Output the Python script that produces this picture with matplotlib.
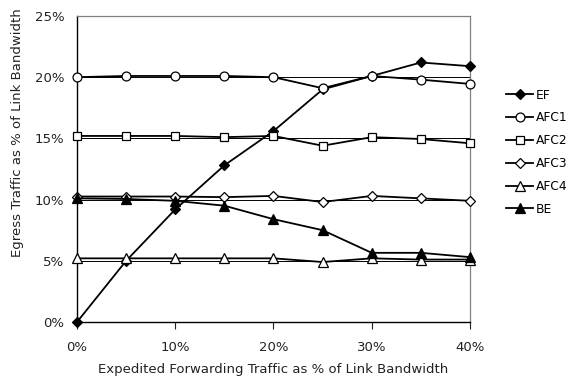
import matplotlib
matplotlib.use("Agg")
import matplotlib.pyplot as plt
from matplotlib.ticker import FuncFormatter

ef_share = [0, 5, 10, 15, 20, 25, 30, 35, 40]

ef = [0.0, 5.0, 9.2, 12.8, 15.6, 19.0, 20.1, 21.2, 20.9]
afc1 = [20.0, 20.1, 20.1, 20.1, 20.0, 19.1, 20.1, 19.8, 19.45]
afc2 = [15.2, 15.2, 15.2, 15.1, 15.2, 14.4, 15.1, 14.95, 14.6]
afc3 = [10.25, 10.25, 10.25, 10.2, 10.3, 9.8, 10.3, 10.1, 9.9]
afc4 = [5.2, 5.2, 5.2, 5.2, 5.2, 4.9, 5.2, 5.1, 5.1]
be = [10.1, 10.05, 9.9, 9.5, 8.4, 7.5, 5.65, 5.65, 5.3]

labels = ["EF", "AFC1", "AFC2", "AFC3", "AFC4", "BE"]
x_ticks = [0, 10, 20, 30, 40]
y_ticks = [0, 5, 10, 15, 20, 25]

series = [
    (ef, "D", "black", 5.2),
    (afc1, "o", "white", 6.4),
    (afc2, "s", "white", 6.2),
    (afc3, "D", "white", 5.6),
    (afc4, "^", "white", 7.0),
    (be, "^", "black", 7.0),
]

fig = plt.figure(figsize=(5.77, 3.77), dpi=100)
ax = fig.add_axes([0.1335, 0.1459, 0.681, 0.8117])

for y in y_ticks[1:-1]:
    ax.axhline(y, color="black", lw=0.7, zorder=1)

for (vals, mk, fc, ms), lab in zip(series, labels):
    ax.plot(ef_share, vals, color="black", lw=1.3, marker=mk, ms=ms,
            mfc=fc, mec="black", mew=0.9, label=lab, zorder=3, clip_on=False)

ax.set_xlim(0, 40)
ax.set_ylim(0, 25)
ax.set_xticks(x_ticks)
ax.set_yticks(y_ticks)
ax.xaxis.set_major_formatter(FuncFormatter(lambda v, p: f"{v:.0f}%"))
ax.yaxis.set_major_formatter(FuncFormatter(lambda v, p: f"{v:.0f}%"))
ax.tick_params(axis="x", length=5, width=0.8, direction="out", pad=9, labelsize=9.5, colors="#222222")
ax.tick_params(axis="y", length=0, pad=9, labelsize=9.5, colors="#222222")

for side in ["top", "right"]:
    ax.spines[side].set_color("#808080")
    ax.spines[side].set_linewidth(0.9)
for side in ["left", "bottom"]:
    ax.spines[side].set_color("black")
    ax.spines[side].set_linewidth(1.0)

ax.set_xlabel("Expedited Forwarding Traffic as % of Link Bandwidth", fontsize=9.5, labelpad=6, color="#222222")
fig.text(0.03, 0.647, "Egress Traffic as % of Link Bandwidth", rotation=90,
         ha="center", va="center", fontsize=9.5, color="#222222")

ax.legend(loc="center left", bbox_to_anchor=(1.08, 0.555), frameon=False,
          fontsize=8.8, handlelength=2.2, handletextpad=0.2, labelspacing=0.8,
          borderaxespad=0)

fig.savefig("out.png", dpi=100)
